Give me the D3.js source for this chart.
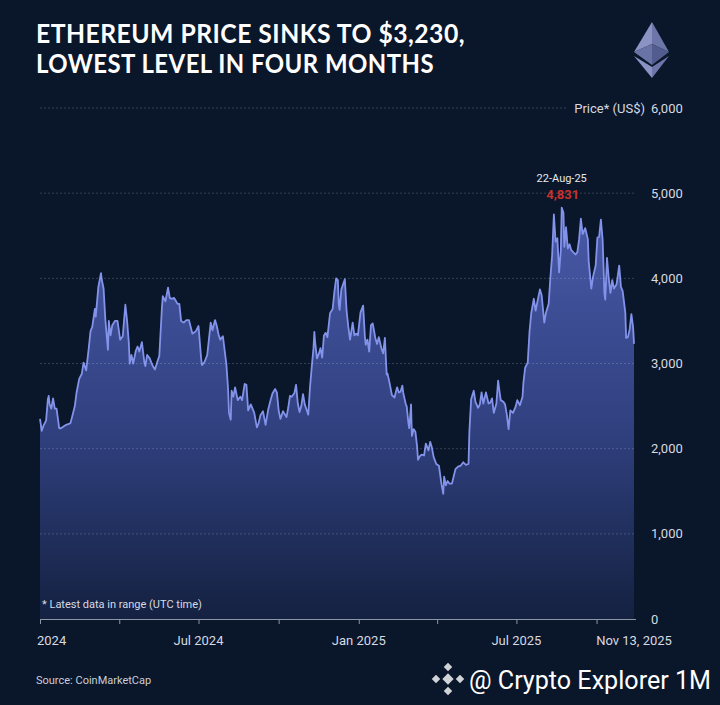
<!DOCTYPE html>
<html>
<head>
<meta charset="utf-8">
<script src="https://cdn.jsdelivr.net/npm/d3@7"></script>
<style>
  html, body { margin: 0; padding: 0; background: #0a1629; }
  svg { display: block; }
</style>
</head>
<body>
<svg id="chart"></svg>
<script>
// ETH closing price (US$)
const priceSeries = [
  ['2024-01-01', 2350], ['2024-01-03', 2210], ['2024-01-05', 2270], ['2024-01-08', 2330],
  ['2024-01-10', 2580], ['2024-01-11', 2620], ['2024-01-12', 2525], ['2024-01-14', 2470],
  ['2024-01-16', 2590], ['2024-01-18', 2470], ['2024-01-20', 2470], ['2024-01-22', 2320],
  ['2024-01-23', 2240], ['2024-01-25', 2240], ['2024-01-28', 2260], ['2024-01-31', 2280],
  ['2024-02-03', 2290], ['2024-02-05', 2300], ['2024-02-08', 2420], ['2024-02-10', 2500],
  ['2024-02-12', 2660], ['2024-02-15', 2820], ['2024-02-18', 2880], ['2024-02-20', 3010],
  ['2024-02-23', 2920], ['2024-02-26', 3180], ['2024-02-28', 3380], ['2024-03-01', 3430],
  ['2024-03-04', 3640], ['2024-03-05', 3550], ['2024-03-08', 3900], ['2024-03-11', 4060],
  ['2024-03-12', 3980], ['2024-03-14', 3880], ['2024-03-16', 3520], ['2024-03-19', 3160],
  ['2024-03-20', 3500], ['2024-03-22', 3330], ['2024-03-24', 3450], ['2024-03-27', 3500],
  ['2024-03-30', 3500], ['2024-04-02', 3280], ['2024-04-05', 3320], ['2024-04-08', 3690],
  ['2024-04-10', 3500], ['2024-04-12', 3240], ['2024-04-13', 3000], ['2024-04-15', 3100],
  ['2024-04-17', 3000], ['2024-04-20', 3150], ['2024-04-22', 3200], ['2024-04-24', 3140],
  ['2024-04-27', 3250], ['2024-04-30', 3000], ['2024-05-01', 2970], ['2024-05-03', 3100],
  ['2024-05-06', 3060], ['2024-05-09', 2980], ['2024-05-12', 2930], ['2024-05-15', 3030],
  ['2024-05-17', 3090], ['2024-05-20', 3660], ['2024-05-21', 3790], ['2024-05-24', 3730],
  ['2024-05-27', 3890], ['2024-05-29', 3770], ['2024-05-31', 3760], ['2024-06-03', 3770],
  ['2024-06-07', 3700], ['2024-06-09', 3700], ['2024-06-11', 3500], ['2024-06-14', 3480],
  ['2024-06-17', 3510], ['2024-06-20', 3510], ['2024-06-24', 3350], ['2024-06-28', 3380],
  ['2024-07-01', 3440], ['2024-07-04', 3060], ['2024-07-05', 2980], ['2024-07-08', 3020],
  ['2024-07-11', 3100], ['2024-07-15', 3480], ['2024-07-17', 3390], ['2024-07-20', 3510],
  ['2024-07-22', 3440], ['2024-07-24', 3340], ['2024-07-26', 3280], ['2024-07-29', 3320],
  ['2024-08-02', 2990], ['2024-08-04', 2690], ['2024-08-05', 2420], ['2024-08-07', 2340],
  ['2024-08-08', 2680], ['2024-08-10', 2610], ['2024-08-12', 2720], ['2024-08-15', 2570],
  ['2024-08-18', 2610], ['2024-08-20', 2570], ['2024-08-23', 2760], ['2024-08-25', 2750],
  ['2024-08-27', 2450], ['2024-08-30', 2520], ['2024-09-03', 2420], ['2024-09-06', 2250],
  ['2024-09-08', 2300], ['2024-09-10', 2390], ['2024-09-13', 2440], ['2024-09-16', 2280],
  ['2024-09-19', 2460], ['2024-09-22', 2580], ['2024-09-24', 2650], ['2024-09-27', 2700],
  ['2024-09-29', 2660], ['2024-10-01', 2450], ['2024-10-03', 2350], ['2024-10-06', 2440],
  ['2024-10-10', 2370], ['2024-10-12', 2480], ['2024-10-14', 2620], ['2024-10-16', 2610],
  ['2024-10-19', 2650], ['2024-10-21', 2750], ['2024-10-23', 2530], ['2024-10-25', 2430],
  ['2024-10-27', 2500], ['2024-10-29', 2640], ['2024-10-31', 2520], ['2024-11-02', 2460],
  ['2024-11-04', 2400], ['2024-11-06', 2720], ['2024-11-08', 2960], ['2024-11-10', 3180],
  ['2024-11-11', 3370], ['2024-11-12', 3240], ['2024-11-14', 3060], ['2024-11-16', 3110],
  ['2024-11-18', 3180], ['2024-11-20', 3070], ['2024-11-22', 3330], ['2024-11-24', 3360],
  ['2024-11-26', 3310], ['2024-11-29', 3590], ['2024-12-02', 3640], ['2024-12-04', 3840],
  ['2024-12-06', 4000], ['2024-12-08', 3980], ['2024-12-09', 3700], ['2024-12-10', 3630],
  ['2024-12-12', 3870], ['2024-12-16', 3990], ['2024-12-18', 3620], ['2024-12-20', 3430],
  ['2024-12-22', 3280], ['2024-12-25', 3480], ['2024-12-27', 3330], ['2024-12-29', 3350],
  ['2024-12-31', 3330], ['2025-01-03', 3600], ['2025-01-06', 3680], ['2025-01-08', 3320],
  ['2025-01-09', 3220], ['2025-01-11', 3280], ['2025-01-13', 3140], ['2025-01-15', 3450],
  ['2025-01-17', 3470], ['2025-01-20', 3300], ['2025-01-22', 3230], ['2025-01-24', 3310],
  ['2025-01-27', 3180], ['2025-01-29', 3120], ['2025-01-31', 3300], ['2025-02-02', 2870],
  ['2025-02-03', 2880], ['2025-02-05', 2790], ['2025-02-08', 2630], ['2025-02-11', 2600],
  ['2025-02-14', 2720], ['2025-02-16', 2660], ['2025-02-18', 2670], ['2025-02-20', 2740],
  ['2025-02-21', 2660], ['2025-02-24', 2520], ['2025-02-25', 2500], ['2025-02-27', 2300],
  ['2025-02-28', 2240], ['2025-03-02', 2520], ['2025-03-03', 2150], ['2025-03-05', 2230],
  ['2025-03-07', 2200], ['2025-03-09', 2020], ['2025-03-10', 1870], ['2025-03-12', 1910],
  ['2025-03-14', 1930], ['2025-03-17', 1920], ['2025-03-19', 2060], ['2025-03-22', 1980],
  ['2025-03-24', 2080], ['2025-03-26', 2010], ['2025-03-28', 1900], ['2025-03-31', 1820],
  ['2025-04-03', 1800], ['2025-04-06', 1580], ['2025-04-08', 1470], ['2025-04-09', 1670],
  ['2025-04-11', 1570], ['2025-04-13', 1620], ['2025-04-15', 1590], ['2025-04-18', 1590],
  ['2025-04-22', 1760], ['2025-04-25', 1790], ['2025-04-28', 1800], ['2025-05-01', 1840],
  ['2025-05-04', 1810], ['2025-05-07', 1820], ['2025-05-08', 2200], ['2025-05-10', 2580],
  ['2025-05-13', 2680], ['2025-05-15', 2550], ['2025-05-18', 2480], ['2025-05-20', 2520],
  ['2025-05-22', 2660], ['2025-05-24', 2530], ['2025-05-27', 2660], ['2025-05-30', 2530],
  ['2025-06-01', 2540], ['2025-06-03', 2590], ['2025-06-05', 2420], ['2025-06-08', 2530],
  ['2025-06-10', 2800], ['2025-06-12', 2640], ['2025-06-13', 2570], ['2025-06-16', 2550],
  ['2025-06-18', 2520], ['2025-06-20', 2400], ['2025-06-22', 2230], ['2025-06-24', 2450],
  ['2025-06-27', 2420], ['2025-06-30', 2490], ['2025-07-02', 2570], ['2025-07-05', 2510],
  ['2025-07-08', 2610], ['2025-07-09', 2770], ['2025-07-11', 2950], ['2025-07-14', 3010],
  ['2025-07-16', 3370], ['2025-07-18', 3590], ['2025-07-21', 3760], ['2025-07-23', 3620],
  ['2025-07-25', 3720], ['2025-07-28', 3870], ['2025-07-30', 3800], ['2025-08-02', 3480],
  ['2025-08-04', 3600], ['2025-08-07', 3700], ['2025-08-09', 4010], ['2025-08-11', 4270],
  ['2025-08-13', 4750], ['2025-08-15', 4430], ['2025-08-17', 4470], ['2025-08-19', 4070],
  ['2025-08-21', 4330], ['2025-08-22', 4831], ['2025-08-24', 4770], ['2025-08-25', 4370],
  ['2025-08-27', 4600], ['2025-08-29', 4350], ['2025-08-31', 4400], ['2025-09-02', 4330],
  ['2025-09-05', 4300], ['2025-09-07', 4280], ['2025-09-09', 4310], ['2025-09-11', 4460],
  ['2025-09-13', 4700], ['2025-09-15', 4520], ['2025-09-18', 4590], ['2025-09-21', 4460],
  ['2025-09-22', 4200], ['2025-09-25', 3880], ['2025-09-27', 4020], ['2025-09-30', 4150],
  ['2025-10-02', 4480], ['2025-10-04', 4490], ['2025-10-06', 4690], ['2025-10-08', 4450],
  ['2025-10-10', 3830], ['2025-10-11', 3750], ['2025-10-13', 4240], ['2025-10-15', 4000],
  ['2025-10-17', 3830], ['2025-10-19', 3980], ['2025-10-21', 3880], ['2025-10-24', 3930],
  ['2025-10-27', 4150], ['2025-10-29', 3900], ['2025-10-31', 3850], ['2025-11-03', 3600],
  ['2025-11-04', 3300], ['2025-11-06', 3310], ['2025-11-08', 3400], ['2025-11-10', 3580],
  ['2025-11-12', 3420], ['2025-11-13', 3230]
]

const yTicks = [0, 1000, 2000, 3000, 4000, 5000, 6000]
const quarterTicks = ['2024-01-01', '2024-04-01', '2024-07-01', '2024-10-01',
                      '2025-01-01', '2025-04-01', '2025-07-01', '2025-10-01']
const xLabelDates = ['2024-01-01', '2024-07-01', '2025-01-01', '2025-07-01', '2025-11-13']
const xLabelTexts = ['2024', 'Jul 2024', 'Jan 2025', 'Jul 2025', 'Nov 13, 2025']
const peakDate = '2025-08-22'
const peakValue = 4831
const peakLabel = '22-Aug-25'

const titleLines = ['ETHEREUM PRICE SINKS TO $3,230,', 'LOWEST LEVEL IN FOUR MONTHS']

const width = 720
const height = 705
const parse = d3.utcParse('%Y-%m-%d')
const data = priceSeries.map(([d, v]) => ({ date: parse(d), value: v }))

const svg = d3.select('#chart')
              .attr('width', width)
              .attr('height', height)
              .style('font-family', 'Roboto, "Noto Sans", sans-serif')

svg.append('rect')
   .attr('width', width)
   .attr('height', height)
   .attr('fill', '#0a1629')

const xScale = d3.scaleUtc()
                 .domain([parse('2024-01-01'), parse('2025-11-13')])
                 .range([40, 634])
const yScale = d3.scaleLinear()
                 .domain([0, 6000])
                 .range([619, 108])

// title
svg.append('g')
   .selectAll('text')
   .data(titleLines)
   .join('text')
   .text(d => d)
   .attr('x', 36)
   .attr('y', (d, i) => 43 + i * 30)
   .attr('textLength', (d, i) => i === 0 ? 429 : 398)
   .attr('lengthAdjust', 'spacingAndGlyphs')
   .attr('fill', '#ffffff')
   .style('font-family', 'Lato, sans-serif')
   .style('font-weight', 700)
   .style('font-size', '27px')
   .style('letter-spacing', '0.5px')

// ethereum logo
const logo = svg.append('g')
logo.append('polygon').attr('points', '652,22 634,52 652,44').attr('fill', '#8a93c4')
logo.append('polygon').attr('points', '652,22 669,52 652,44').attr('fill', '#6d76a8')
logo.append('polygon').attr('points', '634,52 652,44 652,65').attr('fill', '#6a73a6')
logo.append('polygon').attr('points', '669,52 652,44 652,65').attr('fill', '#535c8e')
logo.append('polygon').attr('points', '634,56 652,67 652,78').attr('fill', '#8a93c4')
logo.append('polygon').attr('points', '669,56 652,67 652,78').attr('fill', '#6d76a8')

// area + line
const defs = svg.append('defs')
const grad = defs.append('linearGradient')
                 .attr('id', 'areaFill')
                 .attr('gradientUnits', 'userSpaceOnUse')
                 .attr('x1', 0).attr('x2', 0)
                 .attr('y1', yScale(4900)).attr('y2', yScale(0))
grad.append('stop').attr('offset', '0%').attr('stop-color', '#4a5aa9')
grad.append('stop').attr('offset', '55%').attr('stop-color', '#30407f')
grad.append('stop').attr('offset', '100%').attr('stop-color', '#142141')

const area = d3.area()
               .x(d => xScale(d.date))
               .y0(yScale(0))
               .y1(d => yScale(d.value))
const line = d3.line()
               .x(d => xScale(d.date))
               .y(d => yScale(d.value))

svg.append('path')
   .datum(data)
   .attr('d', area)
   .attr('fill', 'url(#areaFill)')

svg.append('path')
   .datum(data)
   .attr('d', line)
   .attr('fill', 'none')
   .attr('stroke', '#8393ea')
   .attr('stroke-width', 1.8)
   .attr('stroke-linejoin', 'round')

// gridlines on top of the area
svg.append('g')
   .selectAll('line')
   .data(yTicks.filter(t => t > 0))
   .join('line')
   .attr('x1', 40)
   .attr('x2', d => d === 6000 ? 567 : 635)
   .attr('y1', d => yScale(d))
   .attr('y2', d => yScale(d))
   .attr('stroke', 'rgba(200,210,230,0.28)')
   .attr('stroke-width', 0.8)
   .attr('stroke-dasharray', '2,2')

// y labels on the right
svg.append('g')
   .selectAll('text')
   .data(yTicks)
   .join('text')
   .text(d => d3.format(',')(d))
   .attr('x', 651)
   .attr('y', d => yScale(d))
   .attr('dy', '0.35em')
   .attr('fill', '#d6dae2')
   .style('font-size', '13px')

svg.append('text')
   .text('Price* (US$)')
   .attr('x', 645)
   .attr('y', yScale(6000))
   .attr('dy', '0.35em')
   .attr('text-anchor', 'end')
   .attr('fill', '#d6dae2')
   .style('font-size', '13px')

// x axis
const xAxis = d3.axisBottom(xScale)
                .tickValues(quarterTicks.map(parse))
                .tickSize(5)
                .tickSizeOuter(0)
                .tickFormat('')

const axisG = svg.append('g')
                 .attr('transform', `translate(0, ${yScale(0)})`)
                 .call(xAxis)
axisG.select('.domain').attr('stroke', '#8d96a6').attr('d', 'M40,0.5H636')
axisG.selectAll('.tick line').attr('stroke', '#8d96a6')

svg.append('g')
   .selectAll('text')
   .data(xLabelDates)
   .join('text')
   .text((d, i) => xLabelTexts[i])
   .attr('x', (d, i) => i === 0 ? xScale(parse(d)) - 3 : xScale(parse(d)))
   .attr('y', 645)
   .attr('text-anchor', (d, i) => i === 0 ? 'start' : 'middle')
   .attr('fill', '#d6dae2')
   .style('font-size', '13px')

// peak annotation
const px = xScale(parse(peakDate))
svg.append('text')
   .text(peakLabel)
   .attr('x', px)
   .attr('y', yScale(peakValue) - 26)
   .attr('text-anchor', 'middle')
   .attr('fill', '#e6e9ef')
   .style('font-size', '11px')
svg.append('text')
   .text(d3.format(',')(peakValue))
   .attr('x', px + 1)
   .attr('y', yScale(peakValue) - 9)
   .attr('text-anchor', 'middle')
   .attr('fill', '#c8302c')
   .style('font-size', '13px')
   .style('font-weight', 700)

// notes
svg.append('text')
   .text('* Latest data in range (UTC time)')
   .attr('x', 42)
   .attr('y', 608)
   .attr('fill', '#d6dae2')
   .style('font-size', '11px')

svg.append('text')
   .text('Source: CoinMarketCap')
   .attr('x', 36)
   .attr('y', 684)
   .attr('fill', '#c9ced8')
   .style('font-size', '11px')

// watermark
const bn = svg.append('g').attr('fill', '#d0d3d8').attr('transform', 'translate(448, 679)')
bn.append('rect').attr('x', -4).attr('y', -4).attr('width', 8).attr('height', 8).attr('transform', 'rotate(45)')
bn.append('rect').attr('x', -3).attr('y', -15).attr('width', 6).attr('height', 6).attr('transform', 'rotate(45, 0, -12)')
bn.append('rect').attr('x', -3).attr('y', 9).attr('width', 6).attr('height', 6).attr('transform', 'rotate(45, 0, 12)')
bn.append('rect').attr('x', -15).attr('y', -3).attr('width', 6).attr('height', 6).attr('transform', 'rotate(45, -12, 0)')
bn.append('rect').attr('x', 9).attr('y', -3).attr('width', 6).attr('height', 6).attr('transform', 'rotate(45, 12, 0)')

svg.append('text')
   .text('@ Crypto Explorer 1M')
   .attr('x', 469)
   .attr('y', 689)
   .attr('textLength', 242)
   .attr('lengthAdjust', 'spacingAndGlyphs')
   .attr('fill', '#ffffff')
   .style('font-size', '25px')
</script>
</body>
</html>
